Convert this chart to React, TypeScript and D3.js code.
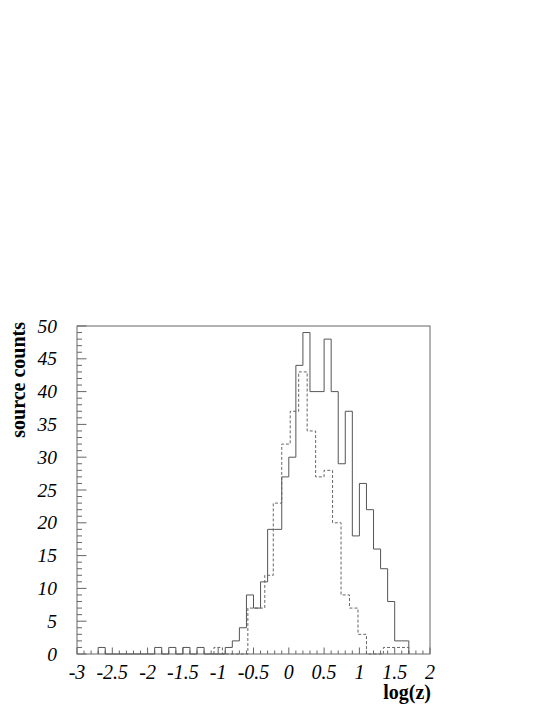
import * as d3 from 'd3';
import React from 'react';

// solid histogram: bins of 0.1 in log(z), listed by lower edge
const solidBinLo = [
  -2.7, -2.6, -2.5, -2.4, -2.3, -2.2, -2.1, -2.0,
  -1.9, -1.8, -1.7, -1.6, -1.5, -1.4, -1.3, -1.2,
  -1.1, -1.0, -0.9, -0.8, -0.7, -0.6, -0.5, -0.4, -0.3, -0.2, -0.1,
  0.0, 0.1, 0.2, 0.3, 0.4, 0.5, 0.6, 0.7, 0.8, 0.9, 1.0, 1.1, 1.2, 1.3, 1.4, 1.5, 1.6,
];
const solidCounts = [
  1, 0, 0, 0, 0, 0, 0, 0,
  1, 0, 1, 0, 1, 0, 1, 0,
  0, 0, 1, 2, 4, 9, 7, 11, 19, 19, 27,
  30, 44, 49, 40, 40, 48, 40, 29, 37, 18, 26, 22, 16, 13, 8, 2, 2,
];
const solidBinWidth = 0.1;

// dashed histogram: bins of 0.12
const dashedBinLo = [
  -1.06, -0.94, -0.82, -0.7, -0.58, -0.46, -0.34, -0.22, -0.1, 0.02, 0.14, 0.26,
  0.38, 0.5, 0.62, 0.74, 0.86, 0.98, 1.1, 1.22, 1.34, 1.46, 1.58,
];
const dashedCounts = [
  1, 0, 0, 0, 7, 7, 12, 23, 32, 37, 43, 34,
  27, 28, 20, 9, 7, 3, 0, 0, 1, 1, 1,
];
const dashedBinWidth = 0.12;

const xTickLabels = ['-3', '-2.5', '-2', '-1.5', '-1', '-0.5', '0', '0.5', '1', '1.5', '2'];
const yTickLabels = ['0', '5', '10', '15', '20', '25', '30', '35', '40', '45', '50'];

const W = 545;
const H = 705;
const left = 77;
const right = 430;
const top = 326;
const bottom = 654;

const labelFont = '"Liberation Serif", "Times New Roman", serif';

function stepPath(lo, counts, width, x, y) {
  const pts = [[lo[0], 0]];
  lo.forEach((v, i) => pts.push([v, counts[i]]));
  pts.push([lo[lo.length - 1] + width, 0]);
  return d3
    .line()
    .x((d) => x(d[0]))
    .y((d) => y(d[1]))
    .curve(d3.curveStepAfter)(pts);
}

export default function App() {
  const x = d3.scaleLinear().domain([-3, 2]).range([left, right]);
  const y = d3.scaleLinear().domain([0, 50]).range([bottom, top]);

  const xMinor = d3.range(-30, 21).map((i) => i / 10);
  const yMinor = d3.range(0, 51);

  return (
    <svg
      width={W}
      height={H}
      style={{ position: 'absolute', left: 0, top: 0, background: '#fff' }}
    >
      <rect x={left} y={top} width={right - left} height={bottom - top}
        fill="none" stroke="#666" strokeWidth={1} />

      {/* x ticks, drawn inward */}
      {xMinor.map((v, i) => (
        <line key={'xt' + i} x1={x(v)} x2={x(v)} y1={bottom}
          y2={bottom - (i % 5 === 0 ? 6.5 : 3.5)} stroke="#666" />
      ))}
      {/* y ticks */}
      {yMinor.map((v) => (
        <line key={'yt' + v} x1={left} x2={left + (v % 5 === 0 ? 9.5 : 5)}
          y1={y(v)} y2={y(v)} stroke="#666" />
      ))}

      <path d={stepPath(solidBinLo, solidCounts, solidBinWidth, x, y)}
        fill="none" stroke="#555" strokeWidth={1} />
      <path d={stepPath(dashedBinLo, dashedCounts, dashedBinWidth, x, y)}
        fill="none" stroke="#666" strokeWidth={1} strokeDasharray="3,2" />

      {xTickLabels.map((t) => (
        <text key={'xl' + t} x={x(+t)} y={679} textAnchor="middle"
          fontFamily={labelFont} fontStyle="italic" fontSize={20}>{t}</text>
      ))}
      {yTickLabels.map((t) => (
        <text key={'yl' + t} x={57} y={y(+t) + 6.5} textAnchor="end"
          fontFamily={labelFont} fontStyle="italic" fontSize={19.5}>{t}</text>
      ))}

      <text x={right + 1} y={699} textAnchor="end" fontFamily={labelFont}
        fontWeight="bold" fontSize={20}>log(z)</text>
      <text transform={`translate(25,${top - 4}) rotate(-90)`} textAnchor="end"
        fontFamily={labelFont} fontWeight="bold" fontSize={20}>source counts</text>
    </svg>
  );
}
